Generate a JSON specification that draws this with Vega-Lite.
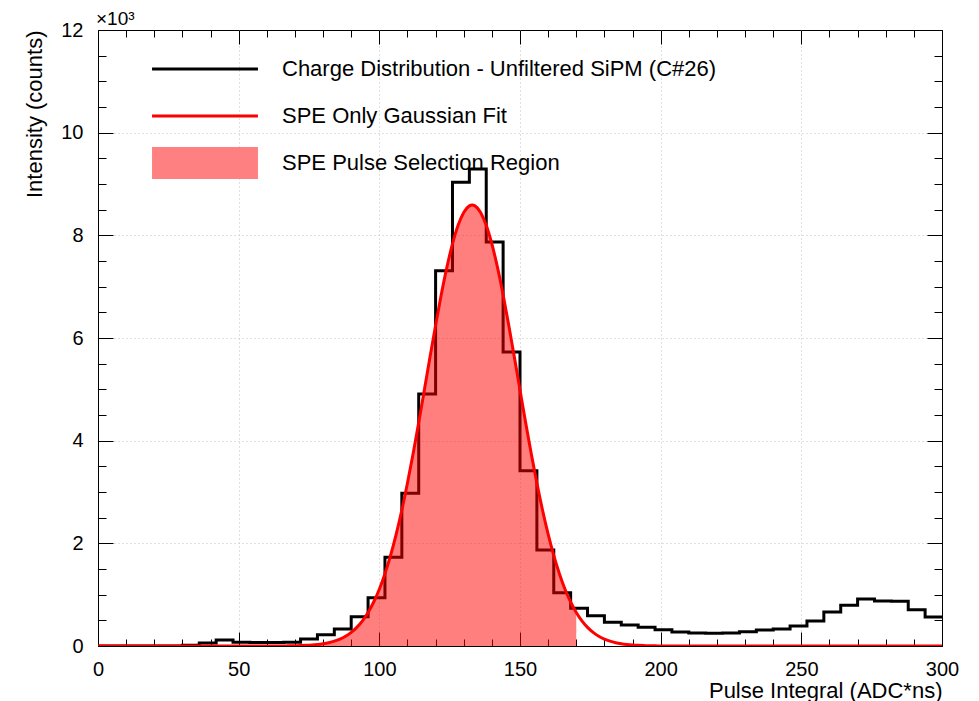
{
  "$schema": "https://vega.github.io/schema/vega-lite/v6.json",
  "width": 844,
  "height": 616,
  "autosize": {"type": "none"},
  "padding": {"left": 98, "top": 30, "right": 37, "bottom": 55},
  "background": "white",
  "title": {"text": "×10³", "anchor": "start", "frame": "group", "offset": 5, "dy": 33, "fontSize": 19, "font": "Liberation Sans", "fontWeight": "normal", "baseline": "bottom", "color": "black", "dx": -2},
  "datasets": {
    "hist": [
      {"x": 0, "count": 0}, {"x": 6, "count": 0}, {"x": 12, "count": 0}, {"x": 18, "count": 0}, {"x": 24, "count": 0},
      {"x": 30, "count": 15}, {"x": 36, "count": 60}, {"x": 42, "count": 115}, {"x": 48, "count": 75}, {"x": 54, "count": 70},
      {"x": 60, "count": 70}, {"x": 66, "count": 72}, {"x": 72, "count": 136}, {"x": 78, "count": 221}, {"x": 84, "count": 331},
      {"x": 90, "count": 572}, {"x": 96, "count": 941}, {"x": 102, "count": 1728}, {"x": 108, "count": 2974}, {"x": 114, "count": 4909},
      {"x": 120, "count": 7312}, {"x": 126, "count": 9033}, {"x": 132, "count": 9293}, {"x": 138, "count": 7871}, {"x": 144, "count": 5728},
      {"x": 150, "count": 3416}, {"x": 156, "count": 1870}, {"x": 162, "count": 1035}, {"x": 168, "count": 734}, {"x": 174, "count": 591},
      {"x": 180, "count": 461}, {"x": 186, "count": 409}, {"x": 192, "count": 364}, {"x": 198, "count": 318}, {"x": 204, "count": 273},
      {"x": 210, "count": 255}, {"x": 216, "count": 250}, {"x": 222, "count": 253}, {"x": 228, "count": 279}, {"x": 234, "count": 312},
      {"x": 240, "count": 331}, {"x": 246, "count": 390}, {"x": 252, "count": 487}, {"x": 258, "count": 662}, {"x": 264, "count": 792},
      {"x": 270, "count": 916}, {"x": 276, "count": 875}, {"x": 282, "count": 870}, {"x": 288, "count": 708}, {"x": 294, "count": 565},
      {"x": 300, "count": 565}
    ],
    "fit": [
      {"x": 0, "y": 0}, {"x": 50, "y": 0}, {"x": 60, "y": 0.4}, {"x": 64, "y": 1.1}, {"x": 68, "y": 3.0}, {"x": 70, "y": 4.9},
      {"x": 72, "y": 7.8}, {"x": 74, "y": 12.3}, {"x": 76, "y": 19.0}, {"x": 78, "y": 28.9}, {"x": 80, "y": 43.5},
      {"x": 82, "y": 64.3}, {"x": 84, "y": 93.7}, {"x": 86, "y": 134.5}, {"x": 88, "y": 190.1}, {"x": 90, "y": 264.7},
      {"x": 92, "y": 363.4}, {"x": 94, "y": 490.7}, {"x": 96, "y": 653.5}, {"x": 98, "y": 856.7}, {"x": 100, "y": 1106},
      {"x": 102, "y": 1408}, {"x": 104, "y": 1764}, {"x": 106, "y": 2178}, {"x": 108, "y": 2649}, {"x": 110, "y": 3174},
      {"x": 112, "y": 3746}, {"x": 114, "y": 4354}, {"x": 116, "y": 4987}, {"x": 118, "y": 5625}, {"x": 120, "y": 6250},
      {"x": 122, "y": 6841}, {"x": 124, "y": 7375}, {"x": 126, "y": 7833}, {"x": 128, "y": 8196}, {"x": 130, "y": 8446},
      {"x": 132, "y": 8574}, {"x": 133, "y": 8590}, {"x": 134, "y": 8574}, {"x": 136, "y": 8446}, {"x": 138, "y": 8196},
      {"x": 140, "y": 7833}, {"x": 142, "y": 7375}, {"x": 144, "y": 6841}, {"x": 146, "y": 6250}, {"x": 148, "y": 5625},
      {"x": 150, "y": 4987}, {"x": 152, "y": 4354}, {"x": 154, "y": 3746}, {"x": 156, "y": 3174}, {"x": 158, "y": 2649},
      {"x": 160, "y": 2178}, {"x": 162, "y": 1764}, {"x": 164, "y": 1408}, {"x": 166, "y": 1106}, {"x": 168, "y": 856.7},
      {"x": 170, "y": 653.5}, {"x": 172, "y": 490.7}, {"x": 174, "y": 363.4}, {"x": 176, "y": 264.7}, {"x": 178, "y": 190.1},
      {"x": 180, "y": 134.5}, {"x": 182, "y": 93.7}, {"x": 184, "y": 64.3}, {"x": 186, "y": 43.5}, {"x": 188, "y": 28.9},
      {"x": 190, "y": 19.0}, {"x": 192, "y": 12.3}, {"x": 194, "y": 7.8}, {"x": 196, "y": 4.9}, {"x": 198, "y": 3.0},
      {"x": 200, "y": 1.8}, {"x": 206, "y": 0.4}, {"x": 220, "y": 0}, {"x": 300, "y": 0}
    ]
  },
  "layer": [
    {
      "data": {"name": "hist"},
      "mark": {"type": "line", "interpolate": "step-after", "strokeWidth": 3, "clip": true},
      "encoding": {
        "x": {
          "field": "x", "type": "quantitative",
          "scale": {"domain": [0, 300], "nice": false, "zero": false},
          "axis": {
            "orient": "bottom",
            "values": [0,10,20,30,40,50,60,70,80,90,100,110,120,130,140,150,160,170,180,190,200,210,220,230,240,250,260,270,280,290,300],
            "labelExpr": "datum.value % 50 === 0 ? datum.label : ''",
            "tickSize": {"condition": {"test": "datum.value % 50 === 0", "value": -14}, "value": -7},
            "gridOpacity": {"condition": {"test": "datum.value % 50 === 0 && datum.value > 0 && datum.value < 300", "value": 1}, "value": 0},
            "title": "Pulse Integral (ADC*ns)",
            "titleAnchor": "end", "titleAlign": "right", "titleX": 844, "titleY": 44, "titleBaseline": "middle",
            "labelPadding": 27, "labelFlush": false, "labelOverlap": false, "labelBound": false
          }
        },
        "y": {
          "field": "count", "type": "quantitative",
          "scale": {"domain": [0, 12000], "nice": false},
          "axis": {
            "orient": "left",
            "values": [0,500,1000,1500,2000,2500,3000,3500,4000,4500,5000,5500,6000,6500,7000,7500,8000,8500,9000,9500,10000,10500,11000,11500,12000],
            "labelExpr": "datum.value % 2000 === 0 ? format(datum.value / 1000, 'd') : ''",
            "tickSize": {"condition": {"test": "datum.value % 2000 === 0", "value": -15}, "value": -8},
            "gridOpacity": {"condition": {"test": "datum.value % 2000 === 0 && datum.value > 0 && datum.value < 12000", "value": 1}, "value": 0},
            "title": "Intensity (counts)",
            "titleAngle": -90, "titleAlign": "right", "titleBaseline": "middle", "titleX": -64, "titleY": 0,
            "labelPadding": 30, "labelFlush": false, "labelOverlap": false, "labelBound": false
          }
        },
        "color": {
          "datum": "Charge Distribution - Unfiltered SiPM (C#26)",
          "type": "nominal",
          "scale": {
            "domain": ["Charge Distribution - Unfiltered SiPM (C#26)", "SPE Only Gaussian Fit", "SPE Pulse Selection Region"],
            "range": ["#000000", "#ff0000", "#ff8080"]
          },
          "legend": {
            "orient": "none", "legendX": 91, "legendY": 23, "title": null, "padding": 0,
            "symbolSize": 1024, "symbolStrokeWidth": 0,
            "labelFontSize": 22, "labelFont": "Liberation Sans", "labelColor": "black", "labelOffset": 61, "labelLimit": 700,
            "rowPadding": 15, "gridAlign": "all",
            "encode": {
              "symbols": {
                "update": {
                  "shape": {"signal": "datum.index === 2 ? 'M-3.31,-1H3.31V1H-3.31Z' : 'M-3.31,-0.1H3.31V0.1H-3.31Z'"},
                  "fill": {"signal": "datum.index === 0 ? '#000000' : datum.index === 1 ? '#ff0000' : '#ff8080'"},
                  "stroke": {"value": "transparent"},
                  "strokeWidth": {"value": 0},
                  "opacity": {"value": 1},
                  "fillOpacity": {"value": 1}
                }
              }
            }
          }
        }
      }
    },
    {
      "data": {"name": "fit"},
      "transform": [{"filter": "datum.x >= 76 && datum.x <= 170"}],
      "mark": {"type": "area", "fill": "#ff0000", "fillOpacity": 0.5, "clip": true},
      "encoding": {
        "x": {"field": "x", "type": "quantitative", "axis": null},
        "y": {"field": "y", "type": "quantitative", "axis": null}
      }
    },
    {
      "data": {"name": "fit"},
      "mark": {"type": "line", "strokeWidth": 3, "interpolate": "monotone", "clip": true},
      "encoding": {
        "x": {
          "field": "x", "type": "quantitative",
          "axis": {
            "orient": "top", "labels": false, "grid": false, "domain": false, "title": null,
            "values": [0,10,20,30,40,50,60,70,80,90,100,110,120,130,140,150,160,170,180,190,200,210,220,230,240,250,260,270,280,290,300],
            "tickSize": {"condition": {"test": "datum.value % 50 === 0", "value": -14}, "value": -7}
          }
        },
        "y": {
          "field": "y", "type": "quantitative",
          "axis": {
            "orient": "right", "labels": false, "grid": false, "domain": false, "title": null,
            "values": [0,500,1000,1500,2000,2500,3000,3500,4000,4500,5000,5500,6000,6500,7000,7500,8000,8500,9000,9500,10000,10500,11000,11500,12000],
            "tickSize": {"condition": {"test": "datum.value % 2000 === 0", "value": -15}, "value": -8}
          }
        },
        "color": {"datum": "SPE Only Gaussian Fit", "type": "nominal"}
      }
    }
  ],
  "resolve": {"axis": {"x": "independent", "y": "independent"}},
  "config": {
    "view": {"stroke": "black", "strokeWidth": 1},
    "font": "Liberation Sans",
    "axis": {
      "labelFont": "Liberation Sans", "labelFontSize": 20, "labelColor": "black",
      "titleFont": "Liberation Sans", "titleFontSize": 22, "titleFontWeight": "normal", "titleColor": "black",
      "tickColor": "black", "tickWidth": 1, "domainColor": "black",
      "gridColor": "#c0c0c0", "gridDash": [1, 3], "gridWidth": 1
    }
  }
}
